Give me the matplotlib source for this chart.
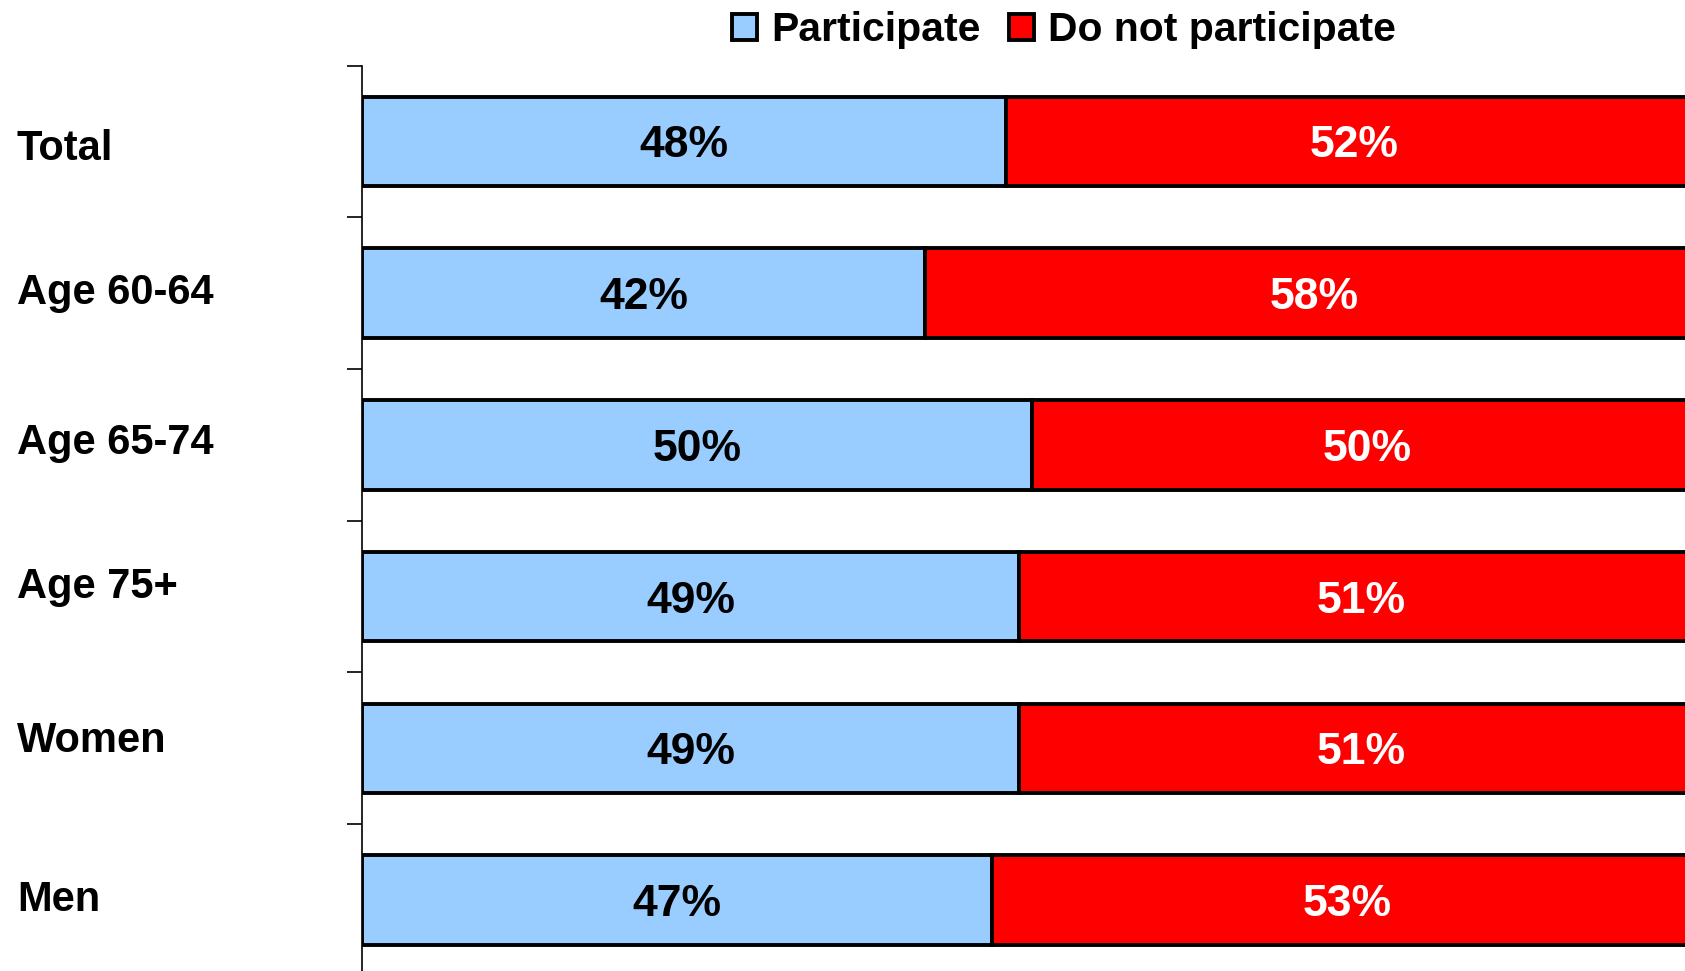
import matplotlib.pyplot as plt
import numpy as np

categories = ['Total', 'Age 60-64', 'Age 65-74', 'Age 75+', 'Women', 'Men']
participate = [48, 42, 50, 49, 49, 47]
not_participate = [52, 58, 50, 51, 51, 53]
series_names = ['Participate', 'Do not participate']
colors = ['#99CCFF', '#FF0000']
text_colors = ['black', 'white']
# small vertical nudges of the row labels (fraction of a row)
label_nudge = [0.02, -0.03, -0.043, -0.092, -0.079, -0.03]

plt.rcParams['font.family'] = ['Liberation Sans', 'DejaVu Sans']
plt.rcParams['font.weight'] = 'bold'

fig = plt.figure(figsize=(16.85, 9.71), dpi=100)
# axes reach slightly past the right edge, as in the original
ax = fig.add_axes([0.2148, -0.005, 0.7958, 0.9374])

y = np.arange(len(categories))
left = np.zeros(len(categories))
for vals, name, col, tcol in zip([participate, not_participate], series_names,
                                 colors, text_colors):
    bars = ax.barh(y, vals, left=left, height=0.59, color=col,
                   edgecolor='black', linewidth=2.8, label=name)
    for b, v in zip(bars, vals):
        ax.text(b.get_x() + b.get_width() / 2, b.get_y() + b.get_height() / 2,
                f'{v}%', ha='center', va='center_baseline', color=tcol,
                fontsize=32, fontweight='bold')
    left = left + np.array(vals)

ax.set_xlim(0, 100)
ax.set_ylim(len(categories) - 0.5, -0.5)

for s in ['top', 'right', 'bottom']:
    ax.spines[s].set_visible(False)
ax.spines['left'].set_linewidth(1.2)
ax.xaxis.set_visible(False)
ax.set_yticks(np.arange(len(categories)) - 0.5)
ax.set_yticklabels([])
ax.tick_params(axis='y', direction='out', length=11, width=1.2)

trans = ax.get_yaxis_transform()
for yi, cat, dy in zip(y, categories, label_nudge):
    ax.text(-0.2573, yi + dy, cat, transform=trans, ha='left',
            va='center_baseline', fontsize=30, fontweight='bold',
            clip_on=False)

ax.legend(loc='center', bbox_to_anchor=(0.6315, 0.9687),
          bbox_transform=fig.transFigure, ncol=2, frameon=False,
          prop={'size': 29.4, 'weight': 'bold'}, handlelength=0.6,
          handleheight=0.6, handletextpad=0.35, columnspacing=0.7,
          borderaxespad=0, borderpad=0)

fig.savefig('out.png', dpi=100)
